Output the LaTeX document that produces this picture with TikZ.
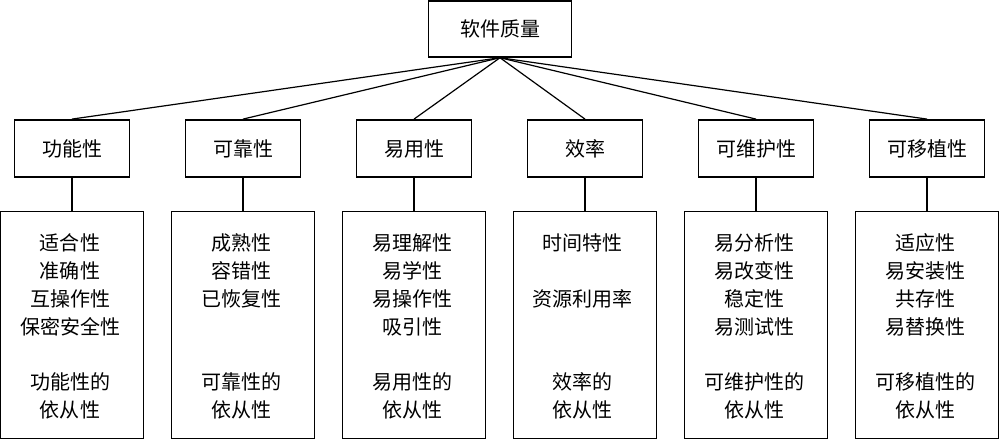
\documentclass[tikz,border=0pt]{standalone}
\usepackage{fontspec}
\setmainfont{Noto Sans CJK SC}
\begin{document}
\begin{tikzpicture}[x=0.75pt,y=-0.75pt,
  box/.style={draw,line width=1.1pt,rectangle,inner sep=0pt,fill=white},
  rootbox/.style={box,minimum width=107pt,minimum height=42pt,font=\fontsize{15}{18}\selectfont},
  catbox/.style={box,minimum width=86pt,minimum height=43pt,font=\fontsize{15}{18}\selectfont},
  detailbox/.style={box,minimum width=107pt,minimum height=170pt},
  txt/.style={anchor=base,inner sep=0pt,font=\fontsize{15}{18}\selectfont},
  link/.style={line width=0.9pt}]
\useasboundingbox[fill=white] (0,0) rectangle (1000,440);
\node[rootbox] (root) at (500,29) {软件质量};
\foreach \i/\x/\name in {1/72/功能性,2/243/可靠性,3/414/易用性,4/585/效率,5/756/可维护性,6/927/可移植性}{
  \node[catbox] (c\i) at (\x,148.5) {\name};
  \node[detailbox] (d\i) at (\x,325) {};
  \draw[link] (root.south) -- (c\i.north);
  \draw[link] (c\i.south) -- (d\i.north);
}
% item rows: baselines
\foreach \i/\x/\items in {
  1/70/{1/适合性,2/准确性,3/互操作性,4/保密安全性,5/功能性的,6/依从性},
  2/241/{1/成熟性,2/容错性,3/已恢复性,5/可靠性的,6/依从性},
  3/412/{1/易理解性,2/易学性,3/易操作性,4/吸引性,5/易用性的,6/依从性},
  4/582/{1/时间特性,3/资源利用率,5/效率的,6/依从性},
  5/754/{1/易分析性,2/易改变性,3/稳定性,4/易测试性,5/可维护性的,6/依从性},
  6/925/{1/适应性,2/易安装性,3/共存性,4/易替换性,5/可移植性的,6/依从性}}{
  \foreach \r/\t in \items {
    \pgfmathsetmacro{\yy}{\r<5 ? 222+28*\r : 249+28*\r}
    \node[txt] (t\i-\r) at (\x,\yy) {\t};
  }
}
\end{tikzpicture}
\end{document}
